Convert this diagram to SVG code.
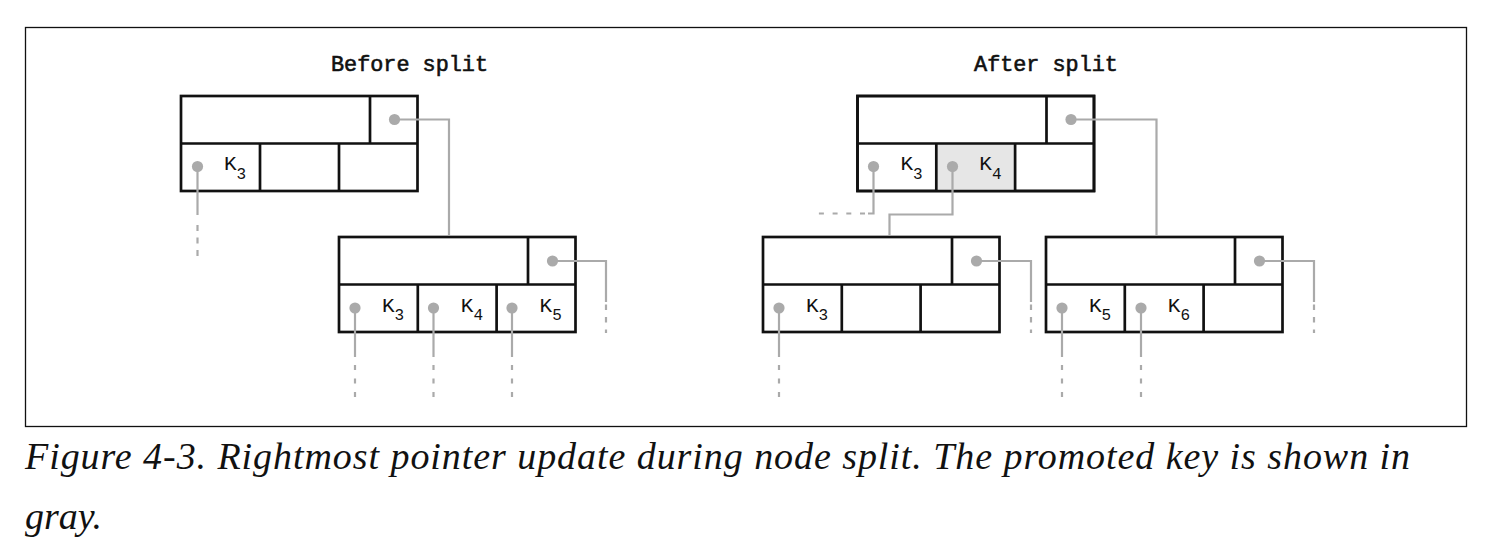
<svg xmlns="http://www.w3.org/2000/svg" width="1492" height="556" viewBox="0 0 1492 556">
<style>
.box{fill:#fff;stroke:#111;stroke-width:2.7}
.ln{fill:none;stroke:#111;stroke-width:2.7}
.hl{fill:#e6e6e6;stroke:none}
.ptr{fill:none;stroke:#aaaaaa;stroke-width:2.2}
.dash{fill:none;stroke:#aaaaaa;stroke-width:2.2}
.title{font-family:"Liberation Mono","DejaVu Sans Mono",monospace;font-size:21.8px;fill:#111;stroke:#111;stroke-width:0.6;text-anchor:middle}
.key{font-family:"Liberation Mono","DejaVu Sans Mono",monospace;font-size:21px;fill:#111}
.sub{font-size:16px}
.cap{font-family:"Liberation Serif","Times New Roman",serif;font-style:italic;font-size:38px;fill:#111}
</style>
<defs>
<marker id="dot" markerUnits="userSpaceOnUse" markerWidth="12" markerHeight="12" refX="6" refY="6" overflow="visible">
<circle cx="6" cy="6" r="5.6" fill="#aaaaaa"/>
</marker>
</defs>
<rect x="25.5" y="27.5" width="1441" height="399" fill="#fff" stroke="#111" stroke-width="1.3"/>
<text class="title" x="409.5" y="71">Before split</text>
<text class="title" x="1046" y="71">After split</text>

<g id="before-root">
<rect class="box" x="181" y="96" width="236.5" height="95"/>
<path class="ln" d="M181 143.5H417.5M370 96V143.5M260 143.5V191M339 143.5V191"/>
<text class="key" x="224" y="170">K<tspan class="sub" dy="8.5">3</tspan></text>
</g>
<g id="before-child">
<rect class="box" x="339" y="237" width="236.5" height="95"/>
<path class="ln" d="M339 284.5H575.5M528 237V284.5M417.8 284.5V332M496.6 284.5V332"/>
<text class="key" x="382" y="311.5">K<tspan class="sub" dy="8.5">3</tspan></text>
<text class="key" x="460.8" y="311.5">K<tspan class="sub" dy="8.5">4</tspan></text>
<text class="key" x="539.6" y="311.5">K<tspan class="sub" dy="8.5">5</tspan></text>
</g>
<g id="after-root">
<rect class="box" x="857.5" y="96" width="236.5" height="95"/>
<rect class="hl" x="936.3" y="143.5" width="78.8" height="47.5"/>
<path class="ln" d="M857.5 143.5H1094M1046.5 96V143.5M936.3 143.5V191M1015.1 143.5V191"/>
<path class="ln" d="M857.5 96H1094V191H857.5Z"/>
<text class="key" x="900.5" y="170">K<tspan class="sub" dy="8.5">3</tspan></text>
<text class="key" x="979.3" y="170">K<tspan class="sub" dy="8.5">4</tspan></text>
</g>
<g id="after-left">
<rect class="box" x="763" y="237" width="236.5" height="95"/>
<path class="ln" d="M763 284.5H999.5M952 237V284.5M841.8 284.5V332M920.6 284.5V332"/>
<text class="key" x="806" y="311.5">K<tspan class="sub" dy="8.5">3</tspan></text>
</g>
<g id="after-right">
<rect class="box" x="1046" y="237" width="236.5" height="95"/>
<path class="ln" d="M1046 284.5H1282.5M1235 237V284.5M1124.8 284.5V332M1203.6 284.5V332"/>
<text class="key" x="1089" y="311.5">K<tspan class="sub" dy="8.5">5</tspan></text>
<text class="key" x="1167.8" y="311.5">K<tspan class="sub" dy="8.5">6</tspan></text>
</g>

<g id="connectors">
<path class="ptr" marker-start="url(#dot)" d="M394.5 119.5H449V236"/>
<path class="ptr" marker-start="url(#dot)" d="M197.5 166.5V215"/>
<path class="dash" stroke-dasharray="6 6.5" d="M197.5 225V257"/>
<path class="ptr" marker-start="url(#dot)" d="M552.5 261H606V302"/>
<path class="dash" stroke-dasharray="5.5 7" d="M606 304.5V333"/>
<path class="ptr" marker-start="url(#dot)" d="M355 308V357"/>
<path class="ptr" marker-start="url(#dot)" d="M433.5 308V357"/>
<path class="ptr" marker-start="url(#dot)" d="M512 308V357"/>
<path class="dash" stroke-dasharray="5 8.5" d="M355 365V397M433.5 365V397M512 365V397"/>
<path class="ptr" marker-start="url(#dot)" d="M1071 119.5H1156.5V236"/>
<path class="ptr" marker-start="url(#dot)" d="M873.5 166.5V213.5H868"/>
<path class="dash" stroke-dasharray="5 8.7" d="M865 213.5H818"/>
<path class="ptr" marker-start="url(#dot)" d="M952.5 166.5V214.5H889.5V236"/>
<path class="ptr" marker-start="url(#dot)" d="M976.5 261H1031V302"/>
<path class="dash" stroke-dasharray="5.5 7" d="M1031 304.5V333"/>
<path class="ptr" marker-start="url(#dot)" d="M1259.5 261H1314V302"/>
<path class="dash" stroke-dasharray="5.5 7" d="M1314 304.5V333"/>
<path class="ptr" marker-start="url(#dot)" d="M779 308V357"/>
<path class="ptr" marker-start="url(#dot)" d="M1062 308V357"/>
<path class="ptr" marker-start="url(#dot)" d="M1141 308V357"/>
<path class="dash" stroke-dasharray="5 8.5" d="M779 365V397M1062 365V397M1141 365V397"/>
</g>

<text class="cap" x="25" y="469" textLength="1385" lengthAdjust="spacing">Figure 4-3. Rightmost pointer update during node split. The promoted key is shown in</text>
<text class="cap" x="25" y="529">gray.</text>
</svg>
